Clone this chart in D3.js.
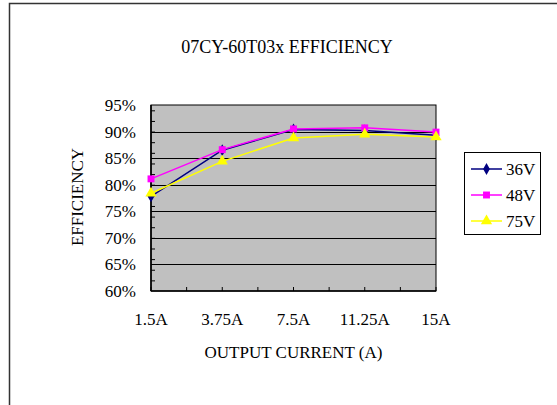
<!DOCTYPE html>
<html>
<head>
<meta charset="utf-8">
<script src="https://cdn.jsdelivr.net/npm/d3@7"></script>
<style>
  html, body { margin: 0; padding: 0; background: #fff; }
  text { font-family: "Liberation Serif", "Times New Roman", serif; fill: #000; }
</style>
</head>
<body>
<div id="chart"></div>
<script>
const WIDTH = 557;
const HEIGHT = 405;
const FONT_SIZE = 17;

const categories = ["1.5A", "3.75A", "7.5A", "11.25A", "15A"];
const v36 = [77.8, 86.5, 90.4, 90.2, 89.3];
const v48 = [81.1, 86.6, 90.5, 90.7, 89.9];
const v75 = [78.4, 84.4, 88.8, 89.5, 89.0];
const yTicks = [60, 65, 70, 75, 80, 85, 90, 95];

const series = [
  { name: "36V", values: v36, color: "#000080", marker: "diamond" },
  { name: "48V", values: v48, color: "#FF00FF", marker: "square" },
  { name: "75V", values: v75, color: "#FFFF00", marker: "triangle" }
];

const plot = { left: 151, right: 436, top: 105, bottom: 291 };

const svg = d3.select("#chart")
  .append("svg")
  .attr("width", WIDTH)
  .attr("height", HEIGHT);

// outer chart frame (only left and top edges are in view)
svg.append("rect")
  .attr("x", 9.5)
  .attr("y", 3.5)
  .attr("width", 600)
  .attr("height", 450)
  .attr("fill", "#fff")
  .attr("stroke", "#333")
  .attr("stroke-width", 1.5);

const x = d3.scalePoint()
  .domain(categories)
  .range([plot.left, plot.right]);

const y = d3.scaleLinear()
  .domain([60, 95])
  .range([plot.bottom, plot.top]);

// plot background
svg.append("rect")
  .attr("x", plot.left)
  .attr("y", plot.top)
  .attr("width", plot.right - plot.left)
  .attr("height", plot.bottom - plot.top)
  .attr("fill", "#C0C0C0")
  .attr("stroke", "#000")
  .attr("stroke-width", 1);

// gridlines
svg.append("g")
  .selectAll("line")
  .data(yTicks.slice(1, -1))
  .join("line")
  .attr("x1", plot.left)
  .attr("x2", plot.right)
  .attr("y1", (d) => Math.round(y(d)) + 0.5)
  .attr("y2", (d) => Math.round(y(d)) + 0.5)
  .attr("stroke", "#000")
  .attr("stroke-width", 1);

// y axis, minor ticks every 2% inside the plot
const yAxis = d3.axisRight(y)
  .tickValues(d3.range(62, 95, 2))
  .tickSize(4)
  .tickFormat("");
svg.append("g")
  .attr("transform", `translate(${plot.left},0)`)
  .call(yAxis)
  .call((g) => g.select(".domain").remove())
  .call((g) => g.selectAll("line").attr("stroke", "#000"));

svg.append("g")
  .selectAll("text")
  .data(yTicks)
  .join("text")
  .attr("x", plot.left - 15)
  .attr("y", (d) => y(d) + 6)
  .attr("text-anchor", "end")
  .attr("font-size", FONT_SIZE)
  .text((d) => `${d}%`);

// x axis, ticks at categories and midpoints, inside
const step = x.step();
const xTickPos = d3.range(0, categories.length * 2 - 1).map((i) => plot.left + (i * step) / 2);
svg.append("g")
  .selectAll("line")
  .data(xTickPos)
  .join("line")
  .attr("x1", (d) => d)
  .attr("x2", (d) => d)
  .attr("y1", plot.bottom)
  .attr("y2", plot.bottom - 4)
  .attr("stroke", "#000");

svg.append("g")
  .selectAll("text")
  .data(categories)
  .join("text")
  .attr("x", (d) => x(d))
  .attr("y", plot.bottom + 34)
  .attr("text-anchor", "middle")
  .attr("font-size", FONT_SIZE)
  .text((d) => d);

// axis lines
svg.append("line")
  .attr("x1", plot.left).attr("x2", plot.left)
  .attr("y1", plot.top).attr("y2", plot.bottom)
  .attr("stroke", "#000").attr("stroke-width", 1.6);
svg.append("line")
  .attr("x1", plot.left).attr("x2", plot.right)
  .attr("y1", plot.bottom).attr("y2", plot.bottom)
  .attr("stroke", "#000").attr("stroke-width", 1.6);

// series
const line = d3.line()
  .x((d, i) => x(categories[i]))
  .y((d) => y(d));

const symbolType = {
  diamond: d3.symbolDiamond,
  square: d3.symbolSquare,
  triangle: d3.symbolTriangle
};
const symbolSize = { diamond: 40, square: 48, triangle: 55 };

series.forEach((s) => {
  svg.append("path")
    .datum(s.values)
    .attr("d", line)
    .attr("fill", "none")
    .attr("stroke", s.color)
    .attr("stroke-width", 1.5);
  svg.append("g")
    .selectAll("path")
    .data(s.values)
    .join("path")
    .attr("transform", (d, i) => `translate(${x(categories[i])},${y(d)})`)
    .attr("d", d3.symbol(symbolType[s.marker], symbolSize[s.marker]))
    .attr("fill", s.color);
});

// title and axis titles
svg.append("text")
  .attr("x", 287)
  .attr("y", 53)
  .attr("text-anchor", "middle")
  .attr("font-size", 18)
  .text("07CY-60T03x EFFICIENCY");

svg.append("text")
  .attr("x", (plot.left + plot.right) / 2)
  .attr("y", 358)
  .attr("text-anchor", "middle")
  .attr("font-size", FONT_SIZE)
  .text("OUTPUT CURRENT (A)");

svg.append("text")
  .attr("transform", "translate(83,197) rotate(-90)")
  .attr("text-anchor", "middle")
  .attr("font-size", FONT_SIZE)
  .text("EFFICIENCY");

// legend
const legend = svg.append("g").attr("transform", "translate(464,152)");
legend.append("rect")
  .attr("x", 0.5)
  .attr("y", 0.5)
  .attr("width", 76)
  .attr("height", 82)
  .attr("fill", "#fff")
  .attr("stroke", "#000");

const rows = legend.selectAll("g.row")
  .data(series)
  .join("g")
  .attr("class", "row")
  .attr("transform", (d, i) => `translate(0,${17 + i * 26})`);

rows.append("line")
  .attr("x1", 7).attr("x2", 38)
  .attr("y1", 0).attr("y2", 0)
  .attr("stroke", (d) => d.color)
  .attr("stroke-width", 1.5);
rows.append("path")
  .attr("transform", "translate(22.5,0)")
  .attr("d", (d) => d3.symbol(symbolType[d.marker], symbolSize[d.marker])())
  .attr("fill", (d) => d.color);
rows.append("text")
  .attr("x", 42)
  .attr("y", 6)
  .attr("font-size", FONT_SIZE)
  .text((d) => d.name);
</script>
</body>
</html>
